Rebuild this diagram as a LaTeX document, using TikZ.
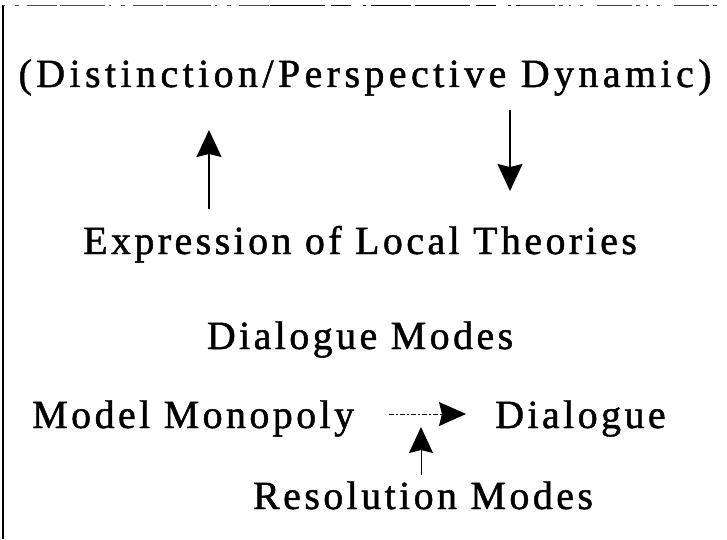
\documentclass[tikz,border=0pt]{standalone}
\usepackage{fontspec}
\setmainfont{Liberation Serif}[LetterSpace=8.5, FakeBold=1.2]
\newfontfamily\widefont{Liberation Serif}[LetterSpace=11, FakeBold=1.2]
\usetikzlibrary{arrows.meta}
\tikzset{
  label text/.style={inner sep=0pt, font=\fontsize{40}{44}\selectfont},
  bigtip/.style={-{Stealth[length=27pt,width=25pt,inset=3pt]}, line width=1.4pt},
  frame line/.style={line width=1.2pt},
}
\begin{document}
\begin{tikzpicture}[x=1pt,y=1pt]
  \useasboundingbox (0,0) rectangle (727,539);
  % frame edges
  \coordinate (fTL) at (3,534);
  \coordinate (fBL) at (3,0);
  \coordinate (fM1) at (270,534);
  \coordinate (fM2) at (520,534);
  \coordinate (fTR) at (722,534);
  \draw[frame line] (fBL) -- (fTL);
  \draw[line width=0.5pt, black!70, dash pattern=on 2pt off 10pt on 4pt off 8pt on 30pt off 3pt on 45pt off 4pt]
    (fTL) -- (fM1);
  \draw[line width=0.7pt, dash pattern=on 55pt off 6pt on 20pt off 12pt on 3pt off 5pt on 40pt off 4pt]
    (fM1) -- (fM2);
  \draw[line width=0.6pt, black!75, dash pattern=on 35pt off 4pt on 4pt off 6pt on 2pt off 9pt on 3pt off 14pt]
    (fM2) -- (fTR);

  % texts
  \node[label text, font=\fontsize{40}{44}\widefont, anchor=base] (dyn) at (365,452) {(Distinction/Perspective Dynamic)};
  \node[label text, anchor=base] (expr) at (360,285) {Expression of Local Theories};
  \node[label text, anchor=base] (dmodes) at (360,190) {Dialogue Modes};
  \node[label text, anchor=base west] (mono) at (32,111) {Model Monopoly};
  \node[label text, anchor=base west] (dial) at (495,111) {Dialogue};
  \node[label text, anchor=base] (rmodes) at (423,30) {Resolution Modes};

  % arrow end points
  \coordinate (upS) at (209,330);
  \coordinate (upE) at (209,409);
  \coordinate (dnS) at (510,429);
  \coordinate (dnE) at (510,348);
  \coordinate (hS) at (389,125);
  \coordinate (hE) at (466,125);
  \coordinate (rS) at (421,64);
  \coordinate (rE) at (421,112);

  \draw[bigtip] (upS) -- (upE);
  \draw[bigtip] (dnS) -- (dnE);
  \draw[-{Stealth[length=27pt,width=24pt,inset=3pt]}, line width=1pt,
        dash pattern=on 5pt off 2pt on 2pt off 2pt] (hS) -- (hE);
  \draw[-{Stealth[length=26pt,width=24pt,inset=3pt]}, line width=1pt] (rS) -- (rE);
\end{tikzpicture}
\end{document}
